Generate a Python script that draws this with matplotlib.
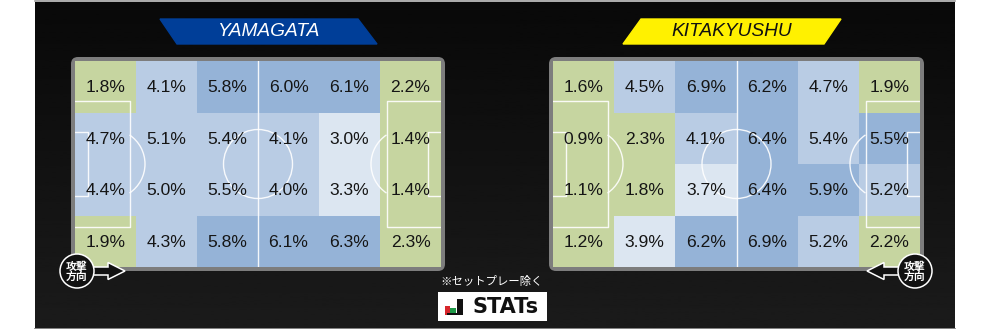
import numpy as np
import matplotlib
matplotlib.use("Agg")
import matplotlib.pyplot as plt
from matplotlib.colors import ListedColormap
from matplotlib.patches import Polygon, Rectangle, Circle, Arc, FancyBboxPatch

# ---------------- data ----------------
teams = ["YAMAGATA", "KITAKYUSHU"]

yamagata_values = [
    [1.8, 4.1, 5.8, 6.0, 6.1, 2.2],
    [4.7, 5.1, 5.4, 4.1, 3.0, 1.4],
    [4.4, 5.0, 5.5, 4.0, 3.3, 1.4],
    [1.9, 4.3, 5.8, 6.1, 6.3, 2.3],
]
yamagata_levels = [
    [0, 2, 3, 3, 3, 0],
    [2, 2, 2, 2, 1, 0],
    [2, 2, 2, 2, 1, 0],
    [0, 2, 3, 3, 3, 0],
]
kitakyushu_values = [
    [1.6, 4.5, 6.9, 6.2, 4.7, 1.9],
    [0.9, 2.3, 4.1, 6.4, 5.4, 5.5],
    [1.1, 1.8, 3.7, 6.4, 5.9, 5.2],
    [1.2, 3.9, 6.2, 6.9, 5.2, 2.2],
]
kitakyushu_levels = [
    [0, 2, 3, 3, 2, 0],
    [0, 0, 2, 3, 2, 3],
    [0, 0, 1, 3, 3, 2],
    [0, 1, 3, 3, 2, 0],
]
note_text = "※セットプレー除く"
arrow_text = "攻撃\n方向"
logo_text = "STATs"

level_colors = ["#c6d5a0", "#dce6f1", "#b9cce4", "#95b3d7"]

# ---------------- figure ----------------
FW, FH = 990, 329
fig = plt.figure(figsize=(FW / 100, FH / 100), dpi=100)
fig.patch.set_facecolor("white")
bg = fig.add_axes([0, 0, 1, 1], zorder=0)
bg.set_xlim(0, FW)
bg.set_ylim(FH, 0)
bg.axis("off")

# dark board with subtle vertical gradient
grad = np.linspace(0, 1, 200).reshape(-1, 1)
bg.imshow(grad, extent=(35, 955, 328, 2), cmap=ListedColormap(
    [plt.cm.gray(v) for v in np.linspace(0.035, 0.105, 64)]), aspect="auto", zorder=0)
bg.plot([35, 955], [1, 1], color="#9a9a9a", lw=1.2, zorder=1)
bg.plot([35, 955], [328.5, 328.5], color="#6a6a6a", lw=1.2, zorder=1)

jp = ["Noto Sans CJK JP", "DejaVu Sans"]

# banners
ban_y0, ban_y1 = 19, 44
bg.add_patch(Polygon([(160, ban_y0), (358, ban_y0), (377, ban_y1), (177, ban_y1)],
                     closed=True, color="#003e98", zorder=2))
bg.text(268, 32, teams[0], color="white", fontsize=13.8, style="italic",
        family="Liberation Sans", ha="center", va="center", zorder=3)
bg.add_patch(Polygon([(641, ban_y0), (841, ban_y0), (824, ban_y1), (623, ban_y1)],
                     closed=True, color="#fff100", zorder=2))
bg.text(732, 32, teams[1], color="#111111", fontsize=13.8, style="italic",
        family="Liberation Sans", ha="center", va="center", zorder=3)

# fields
fields = [
    (75, 61, 366, 206, yamagata_values, yamagata_levels),
    (553, 61, 367, 206, kitakyushu_values, kitakyushu_levels),
]
cmap = ListedColormap(level_colors)
for (fx, fy, W, H, vals, levs) in fields:
    bg.add_patch(FancyBboxPatch((fx - 1, fy - 1), W + 2, H + 2,
                                boxstyle="round,pad=3,rounding_size=7",
                                fc="#7d7d7d", ec="none", zorder=2))
    ax = fig.add_axes([fx / FW, 1 - (fy + H) / FH, W / FW, H / FH], zorder=1)
    ax.set_xlim(0, W)
    ax.set_ylim(H, 0)
    ax.axis("off")
    nr, nc = len(vals), len(vals[0])
    xe = np.linspace(0, W, nc + 1)
    ye = np.linspace(0, H, nr + 1)
    ax.pcolormesh(xe, ye, np.array(levs), cmap=cmap, vmin=-0.5, vmax=3.5,
                  shading="flat", zorder=1)
    # pitch lines
    lc = dict(color="white", lw=1.0, alpha=0.9, zorder=2)
    cy = H / 2
    ax.plot([W / 2, W / 2], [0, H], **lc)
    ax.add_patch(Circle((W / 2, cy), 34.5, fill=False, ec="white", lw=1.0, alpha=0.9, zorder=2))
    pa_d, pa_h = 54.5, 63
    ga_d, ga_h = 13, 32
    for side in (0, 1):
        x0 = 0 if side == 0 else W
        s = 1 if side == 0 else -1
        ax.plot([x0, x0 + s * pa_d, x0 + s * pa_d, x0],
                [cy - pa_h, cy - pa_h, cy + pa_h, cy + pa_h], **lc)
        ax.plot([x0, x0 + s * ga_d, x0 + s * ga_d, x0],
                [cy - ga_h, cy - ga_h, cy + ga_h, cy + ga_h], **lc)
        pcx = x0 + s * 35
        ang = np.degrees(np.arccos((pa_d - 35) / 35.0))
        if side == 0:
            ax.add_patch(Arc((pcx, cy), 70, 70, theta1=-ang, theta2=ang,
                             ec="white", lw=1.0, alpha=0.9, zorder=2))
        else:
            ax.add_patch(Arc((pcx, cy), 70, 70, theta1=180 - ang, theta2=180 + ang,
                             ec="white", lw=1.0, alpha=0.9, zorder=2))
    # values
    for i in range(nr):
        for j in range(nc):
            ax.text((xe[j] + xe[j + 1]) / 2, (ye[i] + ye[i + 1]) / 2 + 1,
                    f"{vals[i][j]:.1f}%", ha="center", va="center",
                    fontsize=12.6, family="Liberation Sans", color="#151515", zorder=3)

# overlay axes for markers on top of the fields
top = fig.add_axes([0, 0, 1, 1], zorder=5)
top.set_xlim(0, FW)
top.set_ylim(FH, 0)
top.axis("off")
top.patch.set_alpha(0)

def attack_marker(cx, cy, direction):
    r = 17
    s = direction
    base = cx + s * (r - 2)
    head0 = cx + s * 31
    tip = cx + s * 48
    pts = [(base, cy - 4), (head0, cy - 4), (head0, cy - 8.5), (tip, cy),
           (head0, cy + 8.5), (head0, cy + 4), (base, cy + 4)]
    top.add_patch(Polygon(pts, closed=True, fc="#111111", ec="white", lw=1.1, zorder=4))
    top.add_patch(Circle((cx, cy), r, fc="#111111", ec="white", lw=1.1, zorder=5))
    top.text(cx, cy + 0.5, arrow_text, color="white", fontsize=7.8, fontweight="bold",
             family=jp, ha="center", va="center", linespacing=0.95, zorder=6)

attack_marker(77, 271, 1)
attack_marker(915, 271, -1)

# note and logo
bg.text(492, 282, note_text, color="white", fontsize=8.2, family=jp,
        ha="center", va="center", zorder=3)
bg.add_patch(Rectangle((438, 292), 109, 29, fc="white", ec="none", zorder=3))
bg.add_patch(Rectangle((445, 306), 5, 9, fc="#d7262b", ec="none", zorder=4))
bg.add_patch(Rectangle((450, 308), 6, 7, fc="#1f9a48", ec="none", zorder=4))
bg.add_patch(Rectangle((457, 298.5), 5.5, 16.5, fc="#111111", ec="none", zorder=4))
bg.add_patch(Rectangle((447, 313), 15, 2, fc="#111111", ec="none", zorder=4))
bg.text(506, 307, logo_text, color="#111111", fontsize=15, fontweight="bold",
        family="DejaVu Sans", ha="center", va="center", zorder=4)

fig.savefig("out.png", dpi=100, facecolor=fig.get_facecolor())
